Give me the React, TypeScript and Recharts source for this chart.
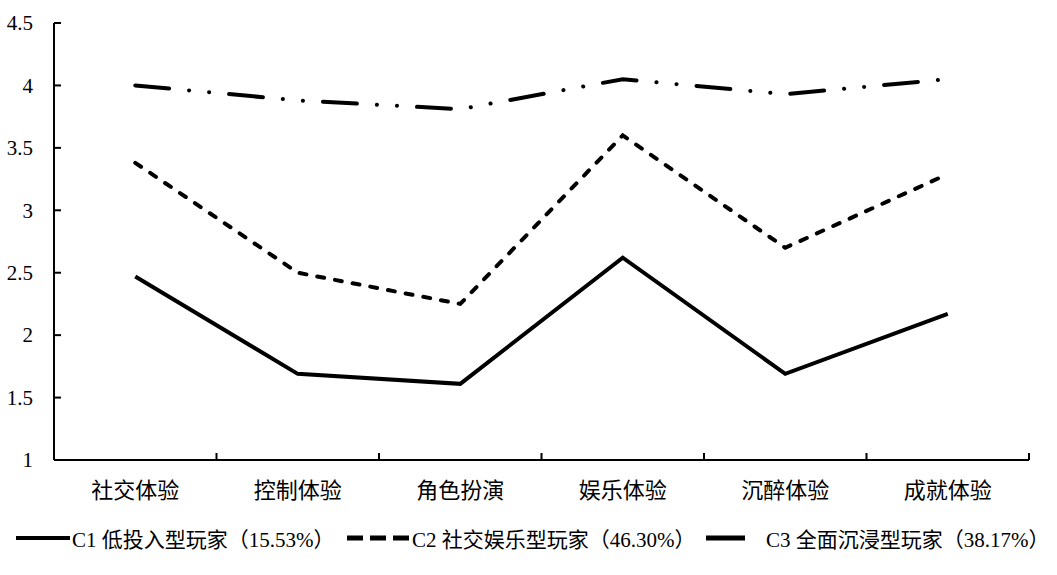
import * as React from "react";
import { LineChart, Line, XAxis, YAxis } from "recharts";

const categories = ["社交体验", "控制体验", "角色扮演", "娱乐体验", "沉醉体验", "成就体验"];
const c1Values = [2.47, 1.69, 1.61, 2.62, 1.69, 2.17];
const c2Values = [3.38, 2.5, 2.25, 3.6, 2.7, 3.29];
const c3Values = [4.0, 3.88, 3.81, 4.05, 3.93, 4.05];
const seriesNames = ["C1 低投入型玩家（15.53%）", "C2 社交娱乐型玩家（46.30%）", "C3 全面沉浸型玩家（38.17%）"];
const yTicks = [1, 1.5, 2, 2.5, 3, 3.5, 4, 4.5];

const data = categories.map((name, i) => ({
  x: i + 0.5,
  name,
  c1: c1Values[i],
  c2: c2Values[i],
  c3: c3Values[i],
}));

// boundary ticks at integers, labels at half steps
const xTicks = Array.from({ length: categories.length * 2 + 1 }, (_, i) => i / 2);

const FONT = "'Liberation Serif', 'Times New Roman', 'Noto Sans CJK SC', serif";
const DASH_C2 = "7 11";
const DASH_C3 = "34 20 0.1 20 0.1 20";
const LEGEND_LEFT = [16, 347, 706];

function XTick(props: any) {
  const { x, y, payload } = props;
  const v = payload.value as number;
  if (Number.isInteger(v)) {
    return <line x1={x} x2={x} y1={y} y2={y - 7} stroke="#000" strokeWidth={2} />;
  }
  const label = categories[Math.floor(v)];
  return (
    <text x={x} y={y + 38} textAnchor="middle" fontSize={22} fontFamily={FONT} fill="#000">
      {label}
    </text>
  );
}

function YTick(props: any) {
  const { x, y, payload } = props;
  const axisX = x + 21;
  return (
    <g>
      <line x1={axisX} x2={axisX + 7} y1={y} y2={y} stroke="#000" strokeWidth={2} />
      <text x={x} y={y} dy="0.35em" textAnchor="end" fontSize={21} fontFamily={FONT} fill="#000">
        {payload.value}
      </text>
    </g>
  );
}

function LegendIcon({ kind }: { kind: number }) {
  if (kind === 0) {
    return (
      <svg width={54} height={10} style={{ display: "block" }}>
        <line x1={0} x2={54} y1={5} y2={5} stroke="#000" strokeWidth={4} />
      </svg>
    );
  }
  if (kind === 1) {
    return (
      <svg width={63} height={10} style={{ display: "block" }}>
        <line x1={0} x2={63} y1={5} y2={5} stroke="#000" strokeWidth={5} strokeDasharray="16 7" />
      </svg>
    );
  }
  return (
    <svg width={39} height={10} style={{ display: "block" }}>
      <line x1={0} x2={39} y1={5} y2={5} stroke="#000" strokeWidth={5} />
    </svg>
  );
}

export default function App() {
  return (
    <div style={{ position: "relative", width: 1057, height: 575, background: "#fff" }}>
      <style>{`body{margin:0}`}</style>
      <LineChart width={1057} height={510} data={data} margin={{ top: 23, right: 28, left: 0, bottom: 0 }}>
        <XAxis
          dataKey="x"
          type="number"
          domain={[0, categories.length]}
          ticks={xTicks}
          interval={0}
          height={50}
          tickSize={0}
          tickMargin={0}
          tickLine={false}
          axisLine={{ stroke: "#000", strokeWidth: 2 }}
          tick={<XTick />}
        />
        <YAxis
          type="number"
          domain={[1, 4.5]}
          ticks={yTicks}
          interval={0}
          width={54}
          tickSize={0}
          tickMargin={21}
          tickLine={false}
          axisLine={{ stroke: "#000", strokeWidth: 2 }}
          tick={<YTick />}
        />
        <Line dataKey="c1" stroke="#000" strokeWidth={4} dot={false} isAnimationActive={false} strokeLinejoin="miter" />
        <Line dataKey="c2" stroke="#000" strokeWidth={4} dot={false} isAnimationActive={false} strokeDasharray={DASH_C2} strokeLinecap="round" />
        <Line dataKey="c3" stroke="#000" strokeWidth={4} dot={false} isAnimationActive={false} strokeDasharray={DASH_C3} strokeLinecap="round" />
      </LineChart>
      {seriesNames.map((n, i) => (
        <div
          key={n}
          style={{
            position: "absolute",
            top: 523,
            left: LEGEND_LEFT[i],
            display: "flex",
            alignItems: "center",
            fontFamily: FONT,
            fontSize: 21,
            color: "#000",
            whiteSpace: "nowrap",
          }}
        >
          <LegendIcon kind={i} />
          <span style={{ marginLeft: i === 2 ? 21 : 2 }}>{n}</span>
        </div>
      ))}
    </div>
  );
}
